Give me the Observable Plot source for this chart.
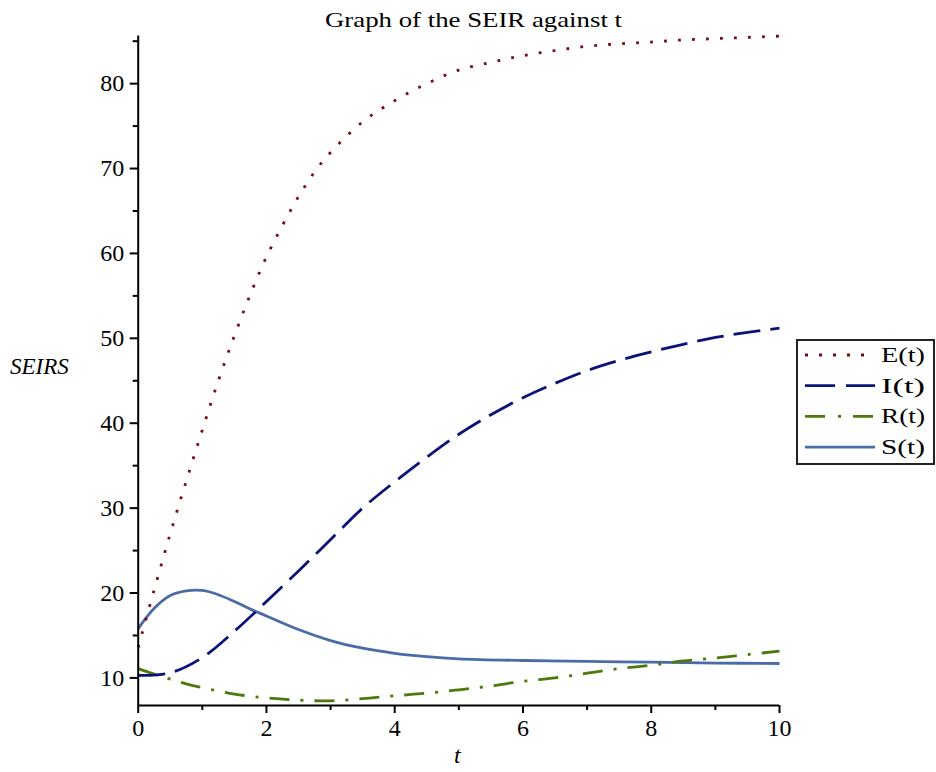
<!DOCTYPE html>
<html>
<head>
<meta charset="utf-8">
<script src="https://cdn.jsdelivr.net/npm/d3@7"></script>
<script src="https://cdn.jsdelivr.net/npm/@observablehq/plot@0.6"></script>
<style>
  html, body { margin: 0; padding: 0; background: #fff; }
  #wrap { position: relative; width: 936px; height: 772px; overflow: hidden; }
  #wrap svg { font-family: "Liberation Serif", "Times New Roman", Times, serif; }
  .ovl { position: absolute; font-family: "Liberation Serif", "Times New Roman", Times, serif; color: #000; white-space: nowrap; }
</style>
</head>
<body>
<div id="wrap"></div>
<script>
// ---------- data ----------
const titleText = "Graph of the SEIR against t";
const xLabel = "t";
const yLabel = "SEIRS";

const xTicks = [0, 2, 4, 6, 8, 10];
const xMinorTicks = [1, 3, 5, 7, 9];
const yTicks = [10, 20, 30, 40, 50, 60, 70, 80];
const yMinorTicks = [15, 25, 35, 45, 55, 65, 75, 85];

const seriesNames = ["E(t)", "I(t)", "R(t)", "S(t)"];
const seriesColors = ["#7a0a16", "#0a1478", "#4b7a0a", "#4a6ca6"];

const tE = [0, 0.25, 0.5, 0.75, 1.0, 1.25, 1.5, 1.75, 2.0, 2.25, 2.5, 2.75, 3.0, 3.5, 4.0, 4.5, 5.0, 5.5, 6.0, 6.5, 7.0, 7.5, 8.0, 8.5, 9.0, 9.5, 10];
const vE = [13.6, 20.4, 27.0, 33.2, 39.2, 45.0, 50.3, 55.2, 59.6, 63.3, 66.7, 69.6, 71.9, 75.5, 78.0, 80.0, 81.6, 82.5, 83.3, 83.9, 84.4, 84.7, 84.9, 85.15, 85.3, 85.45, 85.6];

const tI = [0, 0.5, 1.0, 1.5, 2.0, 2.5, 3.0, 3.5, 4.0, 4.5, 5.0, 5.5, 6.0, 6.5, 7.0, 7.5, 8.0, 8.5, 9.0, 9.5, 10];
const vI = [10.3, 10.6, 12.4, 15.5, 19.0, 22.6, 26.3, 30.0, 33.1, 36.0, 38.7, 41.0, 43.0, 44.7, 46.2, 47.4, 48.4, 49.3, 50.1, 50.7, 51.2];

const tR = [0, 0.25, 0.5, 0.75, 1.0, 1.5, 2.0, 2.5, 3.0, 3.5, 4.0, 4.5, 5.0, 5.5, 6.0, 6.5, 7.0, 7.5, 8.0, 8.5, 9.0, 9.5, 10];
const vR = [11.1, 10.45, 9.85, 9.3, 8.85, 8.1, 7.65, 7.38, 7.3, 7.55, 7.9, 8.2, 8.6, 9.05, 9.6, 10.0, 10.55, 11.1, 11.5, 12.0, 12.35, 12.75, 13.15];

const tS = [0, 0.25, 0.5, 0.75, 1.0, 1.25, 1.5, 1.75, 2.0, 2.5, 3.0, 3.5, 4.0, 4.5, 5.0, 6.0, 7.0, 8.0, 9.0, 10];
const vS = [15.8, 18.2, 19.7, 20.25, 20.3, 19.8, 19.0, 18.1, 17.3, 15.7, 14.4, 13.5, 12.9, 12.5, 12.25, 12.05, 11.95, 11.85, 11.75, 11.7];

const yDomain = [6.75, 85.6];
const xDomain = [0, 10];

// ---------- build table ----------
const toRows = (ts, vs, name) => ts.map((t, i) => ({t, v: vs[i], name}));
const rowsE = toRows(tE, vE, seriesNames[0]);
const rowsI = toRows(tI, vI, seriesNames[1]);
const rowsR = toRows(tR, vR, seriesNames[2]);
const rowsS = toRows(tS, vS, seriesNames[3]);

const dashes = ["2.8,11.2", "27,10", "20,11,3,11", null];

const lineOpts = (i) => ({
  x: "t", y: "v", stroke: seriesColors[i], strokeWidth: 2.8,
  curve: "catmull-rom", strokeDasharray: dashes[i] || undefined, strokeLinecap: "butt"
});

const chart = Plot.plot({
  width: 936,
  height: 772,
  marginLeft: 137.7,
  marginRight: 157,
  marginTop: 35.6,
  marginBottom: 67,
  x: {domain: xDomain},
  y: {domain: yDomain},
  style: {fontFamily: "'Liberation Serif', 'Times New Roman', serif", fontSize: "24px", color: "#000", background: "#fff"},
  marks: [
    Plot.line(rowsS, lineOpts(3)),
    Plot.line(rowsR, lineOpts(2)),
    Plot.line(rowsI, lineOpts(1)),
    Plot.line(rowsE, lineOpts(0)),
    Plot.axisX({ticks: xTicks, tickSize: 8, tickPadding: 5, tickFormat: d => String(d), label: null, strokeWidth: 2, fontSize: 24}),
    Plot.axisX({ticks: xMinorTicks, tickSize: 5, text: null, label: null, strokeWidth: 2}),
    Plot.axisY({ticks: yTicks, tickSize: 8, tickPadding: 6, tickFormat: d => String(d), label: null, strokeWidth: 2, fontSize: 24}),
    Plot.axisY({ticks: yMinorTicks, tickSize: 5, text: null, label: null, strokeWidth: 2}),
    Plot.ruleX([xDomain[0]], {strokeWidth: 2}),
    Plot.ruleY([yDomain[0]], {strokeWidth: 2})
  ]
});

const wrap = document.getElementById("wrap");
wrap.appendChild(chart);
chart.style.position = "absolute";
chart.style.left = "0px";
chart.style.top = "0px";

// title
const tsvg = d3.select(wrap).append("svg")
  .attr("class", "ovl").attr("width", 936).attr("height", 36)
  .style("left", "0px").style("top", "0px");
tsvg.append("text").attr("x", 473.5).attr("y", 27).attr("text-anchor", "middle")
  .attr("font-family", "Liberation Serif, Times New Roman, serif").attr("font-size", 22)
  .attr("textLength", 297).attr("lengthAdjust", "spacingAndGlyphs")
  .text(titleText);

// axis labels
const yl = document.createElement("div");
yl.className = "ovl"; yl.textContent = yLabel;
Object.assign(yl.style, {left: "10px", top: "354px", fontSize: "23px", fontStyle: "italic"});
wrap.appendChild(yl);
const xl = document.createElement("div");
xl.className = "ovl"; xl.textContent = xLabel;
Object.assign(xl.style, {left: "454px", top: "742px", fontSize: "24px", fontStyle: "italic"});
wrap.appendChild(xl);

// legend
const lg = d3.select(wrap).append("svg").attr("class", "ovl")
  .attr("width", 140).attr("height", 128)
  .style("left", "796px").style("top", "339px");
lg.append("rect").attr("x", 1).attr("y", 1).attr("width", 137).attr("height", 124)
  .attr("fill", "#fff").attr("stroke", "#222").attr("stroke-width", 2);
seriesNames.forEach((name, i) => {
  const y = 16 + i * 30.7;
  lg.append("line").attr("x1", 9).attr("x2", 79).attr("y1", y).attr("y2", y)
    .attr("stroke", seriesColors[i]).attr("stroke-width", 2.8)
    .attr("stroke-dasharray", i === 0 ? "3,11" : (i === 1 ? "30,11" : (i === 2 ? "20,13,3,12" : null)));
  lg.append("text").attr("x", 85).attr("y", y + 7).attr("font-family", "Liberation Serif, Times New Roman, serif")
    .attr("font-size", 21).attr("textLength", 44).attr("lengthAdjust", "spacingAndGlyphs").text(name);
});
</script>
</body>
</html>
